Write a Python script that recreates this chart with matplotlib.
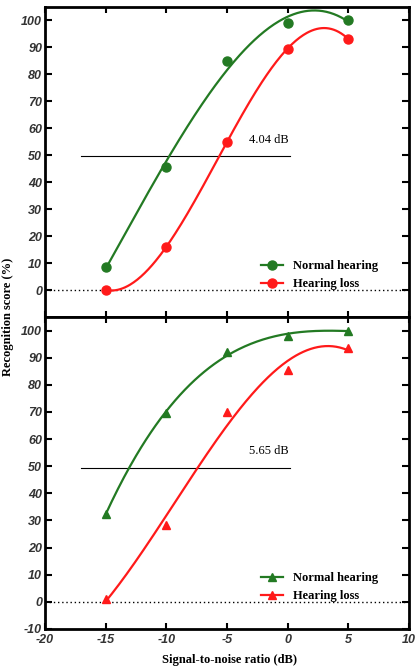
import matplotlib
matplotlib.use("Agg")
import matplotlib.pyplot as plt
import numpy as np

plt.rcParams["axes.unicode_minus"] = False

snr = [-15, -10, -5, 0, 5]

# top panel (circles)
top_normal = [8.5, 45.5, 85, 99, 100]
top_loss = [0, 16, 55, 89.5, 93]
# bottom panel (triangles)
bot_normal = [32.5, 69.5, 92, 98, 100]
bot_loss = [1, 28.5, 70, 85.5, 93.5]

labels = ["Normal hearing", "Hearing loss"]
diff_labels = ["4.04 dB", "5.65 dB"]
xticks = [-20, -15, -10, -5, 0, 5, 10]
yticks_top = [0, 10, 20, 30, 40, 50, 60, 70, 80, 90, 100]
yticks_bot = [-10, 0, 10, 20, 30, 40, 50, 60, 70, 80, 90, 100]

green = "#237a23"
red = "#ff1a1a"
serif = "Liberation Serif"
sans = "Liberation Sans"

fig = plt.figure(figsize=(4.17, 6.71), dpi=100)
ax1 = fig.add_axes([0.108, 0.5276, 0.873, 0.4624])
ax2 = fig.add_axes([0.108, 0.0626, 0.873, 0.465])


def draw_panel(ax, normal, loss, marker, ms, yticks, label_txt):
    xx = np.linspace(-15, 5, 200)
    for ys, col, lab in [(normal, green, labels[0]), (loss, red, labels[1])]:
        p = np.polyfit(snr, ys, 3)
        ax.plot(xx, np.polyval(p, xx), color=col, lw=1.6, zorder=3)
        ax.plot(snr, ys, ls="none", marker=marker, ms=ms, color=col, zorder=4)
        ax.plot([], [], color=col, lw=1.6, marker=marker, ms=ms, label=lab)
    ax.axhline(0, color="black", lw=1.0, ls=(0, (1, 2)), zorder=1)
    ax.plot([-17, 0.2], [49.5, 49.5], color="black", lw=0.8, zorder=2)
    ax.text(-3.2, 54.5, label_txt, family=serif, fontsize=9)
    ax.set_xlim(-20, 10)
    ax.set_ylim(-10, 105)
    ax.set_xticks(xticks)
    ax.set_yticks(yticks)
    for s in ax.spines.values():
        s.set_linewidth(2.0)
    ax.tick_params(axis="y", left=True, right=True, direction="inout", length=5, width=1.5, pad=2)
    ax.tick_params(axis="y", right=True, direction="in")
    ax.tick_params(axis="x", top=True, bottom=True, direction="in", length=4, width=1.5)
    for t in ax.get_yticklabels() + ax.get_xticklabels():
        t.set_family(sans)
        t.set_fontweight("bold")
        t.set_fontstyle("italic")
        t.set_fontsize(9)
        t.set_color("#333333")
    ax.legend(loc="lower right", bbox_to_anchor=(0.93, 0.07), frameon=False,
              prop={"family": serif, "weight": "bold", "size": 9},
              handlelength=1.8, labelspacing=0.5, borderaxespad=0)


draw_panel(ax1, top_normal, top_loss, "o", 6.5, yticks_top, diff_labels[0])
draw_panel(ax2, bot_normal, bot_loss, "^", 6, yticks_bot, diff_labels[1])
ax1.tick_params(axis="x", labelbottom=False)

fig.text(0.02, 0.528, "Recognition score (%)", rotation=90, va="center", ha="center",
         family=serif, fontweight="bold", fontsize=9)
fig.text(0.55, 0.016, "Signal-to-noise ratio (dB)", va="center", ha="center",
         family=serif, fontweight="bold", fontsize=9)

fig.savefig("out.png", dpi=100)
